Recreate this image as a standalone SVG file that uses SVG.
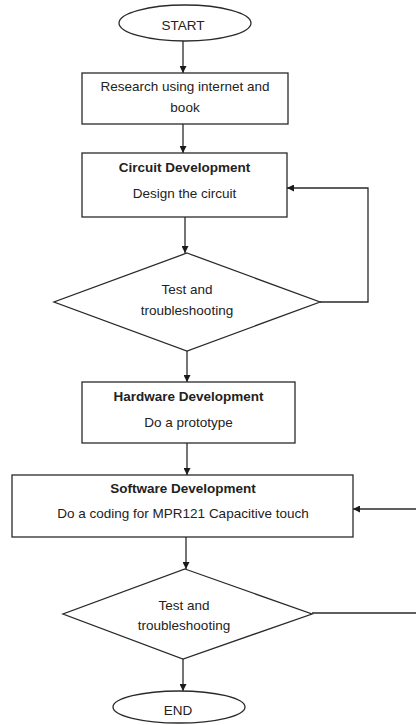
<svg xmlns="http://www.w3.org/2000/svg" width="416" height="725" viewBox="0 0 416 725">
<style>
.s{fill:#fff;stroke:#2a2a2a;stroke-width:1.3}
.c{fill:none;stroke:#2a2a2a;stroke-width:1.3}
text{font-family:"Liberation Sans",Arial,sans-serif;font-size:13.5px;fill:#222;text-anchor:middle}
.b{font-weight:bold}
</style>
<defs>
<marker id="ah" viewBox="0 0 10 10" refX="10" refY="5" markerWidth="7" markerHeight="7" markerUnits="userSpaceOnUse" orient="auto">
<path d="M0,0 L10,5 L0,10 z" fill="#1a1a1a"/>
</marker>
</defs>
<rect width="416" height="725" fill="#fff"/>
<g id="connectors">
<line class="c" x1="183" y1="41" x2="183" y2="73" marker-end="url(#ah)"/>
<line class="c" x1="183" y1="124" x2="183" y2="153" marker-end="url(#ah)"/>
<line class="c" x1="185" y1="217" x2="185" y2="253" marker-end="url(#ah)"/>
<polyline class="c" points="320,302 368,302 368,188 287,188" marker-end="url(#ah)"/>
<line class="c" x1="187" y1="351" x2="187" y2="382" marker-end="url(#ah)"/>
<line class="c" x1="187" y1="443" x2="187" y2="475" marker-end="url(#ah)"/>
<line class="c" x1="416" y1="509" x2="353" y2="509" marker-end="url(#ah)"/>
<line class="c" x1="186" y1="537" x2="186" y2="569" marker-end="url(#ah)"/>
<line class="c" x1="312" y1="613" x2="416" y2="613"/>
<line class="c" x1="183" y1="659" x2="183" y2="691" marker-end="url(#ah)"/>
</g>
<g id="start">
<ellipse class="s" cx="185" cy="23" rx="66" ry="18"/>
<text x="183" y="30">START</text>
</g>
<g id="research">
<rect class="s" x="82" y="73" width="206" height="51"/>
<text x="185" y="91">Research using internet and</text>
<text x="185" y="112">book</text>
</g>
<g id="circuit">
<rect class="s" x="82" y="153" width="205" height="64"/>
<text class="b" x="184.5" y="172">Circuit Development</text>
<text x="184.5" y="198">Design the circuit</text>
</g>
<g id="test1">
<polygon class="s" points="187,253 320,302 187,351 54,302"/>
<text x="187" y="294">Test and</text>
<text x="187" y="315">troubleshooting</text>
</g>
<g id="hardware">
<rect class="s" x="82" y="382" width="213" height="61"/>
<text class="b" x="188.5" y="401">Hardware Development</text>
<text x="188.5" y="427">Do a prototype</text>
</g>
<g id="software">
<rect class="s" x="12" y="475" width="341" height="62"/>
<text class="b" x="183" y="493">Software Development</text>
<text x="183" y="518">Do a coding for MPR121 Capacitive touch</text>
</g>
<g id="test2">
<polygon class="s" points="185,569 312,614 183,659 63,614"/>
<text x="184" y="610">Test and</text>
<text x="184" y="630">troubleshooting</text>
</g>
<g id="end">
<ellipse class="s" cx="179" cy="707" rx="66" ry="16"/>
<text x="178" y="715">END</text>
</g>
</svg>
